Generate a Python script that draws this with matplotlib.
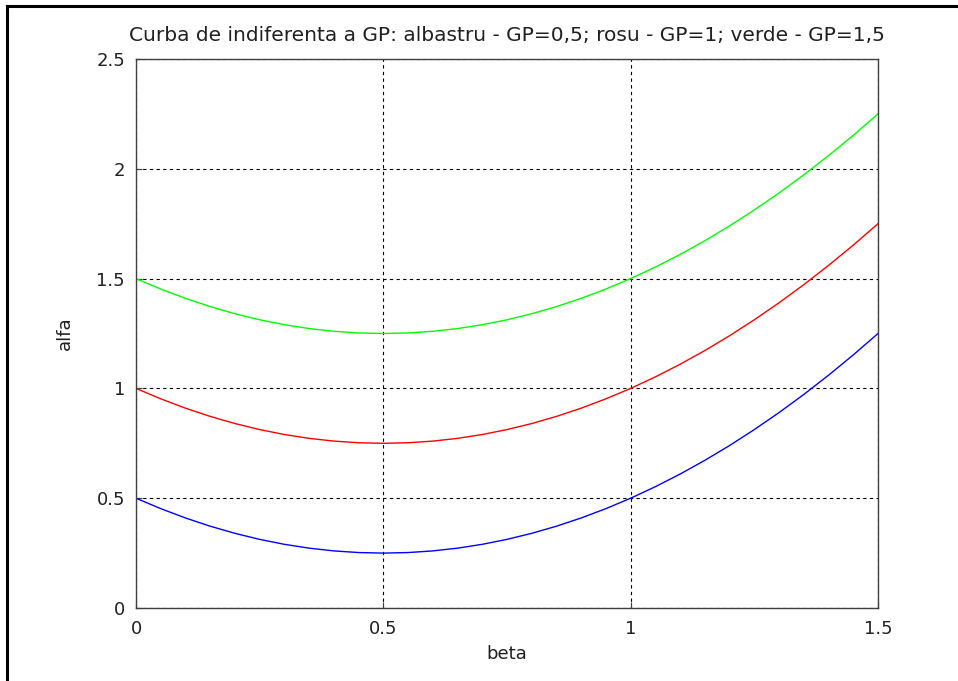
import matplotlib
matplotlib.use("Agg")
import matplotlib.pyplot as plt
from matplotlib.lines import Line2D

plt.rcParams["font.family"] = ["DejaVu Sans"]

# beta
beta = [0.0, 0.05, 0.1, 0.15, 0.2, 0.25, 0.3, 0.35, 0.4, 0.45, 0.5,
        0.55, 0.6, 0.65, 0.7, 0.75, 0.8, 0.85, 0.9, 0.95, 1.0,
        1.05, 1.1, 1.15, 1.2, 1.25, 1.3, 1.35, 1.4, 1.45, 1.5]

# alfa pentru GP=0,5 (albastru)
alfa_albastru = [0.5, 0.4525, 0.41, 0.3725, 0.34, 0.3125, 0.29, 0.2725, 0.26, 0.2525, 0.25,
                 0.2525, 0.26, 0.2725, 0.29, 0.3125, 0.34, 0.3725, 0.41, 0.4525, 0.5,
                 0.5525, 0.61, 0.6725, 0.74, 0.8125, 0.89, 0.9725, 1.06, 1.1525, 1.25]
# alfa pentru GP=1 (rosu)
alfa_rosu = [1.0, 0.9525, 0.91, 0.8725, 0.84, 0.8125, 0.79, 0.7725, 0.76, 0.7525, 0.75,
             0.7525, 0.76, 0.7725, 0.79, 0.8125, 0.84, 0.8725, 0.91, 0.9525, 1.0,
             1.0525, 1.11, 1.1725, 1.24, 1.3125, 1.39, 1.4725, 1.56, 1.6525, 1.75]
# alfa pentru GP=1,5 (verde)
alfa_verde = [1.5, 1.4525, 1.41, 1.3725, 1.34, 1.3125, 1.29, 1.2725, 1.26, 1.2525, 1.25,
              1.2525, 1.26, 1.2725, 1.29, 1.3125, 1.34, 1.3725, 1.41, 1.4525, 1.5,
              1.5525, 1.61, 1.6725, 1.74, 1.8125, 1.89, 1.9725, 2.06, 2.1525, 2.25]

x_ticks = [0, 0.5, 1, 1.5]
x_labels = ["0", "0.5", "1", "1.5"]
y_ticks = [0, 0.5, 1, 1.5, 2, 2.5]
y_labels = ["0", "0.5", "1", "1.5", "2", "2.5"]

FS = 13
TXT = "#202020"

fig = plt.figure(figsize=(9.58, 6.81), dpi=100)
ax = fig.add_axes([136 / 958, 1 - 608 / 681, (878 - 136) / 958, (608 - 59) / 681])

ax.plot(beta, alfa_albastru, color="#0000ff", lw=1.0)
ax.plot(beta, alfa_rosu, color="#ff0000", lw=1.0)
ax.plot(beta, alfa_verde, color="#00ff00", lw=1.0)

ax.set_xlim(0, 1.5)
ax.set_ylim(0, 2.5)
ax.set_xticks(x_ticks)
ax.set_xticklabels(x_labels, fontsize=FS, color=TXT)
ax.set_yticks(y_ticks)
ax.set_yticklabels(y_labels, fontsize=FS, color=TXT)
ax.tick_params(axis="x", direction="in", length=4, width=0.8, color="#404040", pad=9)
ax.tick_params(axis="y", direction="in", length=4, width=0.8, color="#404040", pad=8)
ax.grid(True, color="black", linestyle=(0, (3, 3)), linewidth=0.8)
for s in ax.spines.values():
    s.set_color("#404040")
    s.set_linewidth(1.0)

ax.set_xlabel("beta", fontsize=FS, color=TXT, labelpad=5)
ax.set_ylabel("alfa", fontsize=FS, color=TXT, labelpad=16)
ax.set_title("Curba de indiferenta a GP: albastru - GP=0,5; rosu - GP=1; verde - GP=1,5",
             fontsize=14.5, color=TXT, pad=13)

# chenarul negru al ferestrei (sus si stanga)
fig.add_artist(Line2D([7 / 958, 1.0], [1 - 6 / 681, 1 - 6 / 681],
                      transform=fig.transFigure, color="black", lw=2.2))
fig.add_artist(Line2D([7 / 958, 7 / 958], [0.0, 1 - 6 / 681],
                      transform=fig.transFigure, color="black", lw=2.2))

fig.savefig("out.png", dpi=100)
